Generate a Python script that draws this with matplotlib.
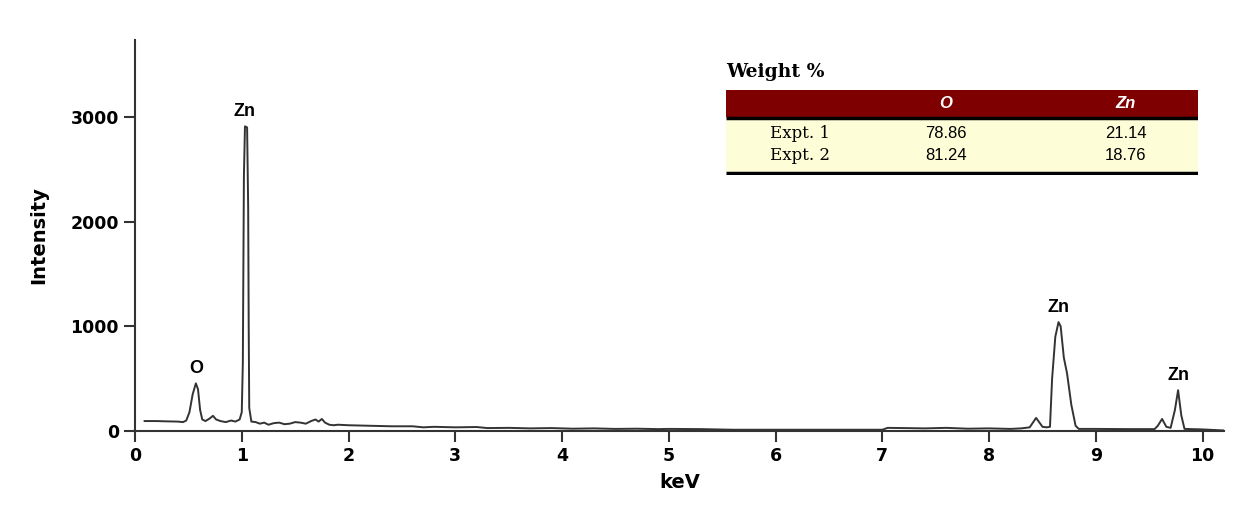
import matplotlib
matplotlib.use('Agg')
from matplotlib import pyplot as plt
from matplotlib.patches import Rectangle

# EDS spectrum (keV, counts)
kev = [0.09, 0.20, 0.30, 0.40, 0.45, 0.48, 0.51, 0.54, 0.57, 0.59, 0.61, 0.63,
       0.66, 0.70, 0.73, 0.76, 0.80, 0.85, 0.90, 0.94, 0.98, 1.00, 1.01, 1.02,
       1.03, 1.05, 1.06, 1.065, 1.07, 1.09, 1.13, 1.17, 1.21, 1.25, 1.30, 1.35,
       1.40, 1.45, 1.50, 1.55, 1.60, 1.65, 1.69, 1.72, 1.75, 1.78, 1.82, 1.86,
       1.90, 2.0, 2.2, 2.4, 2.6, 2.7, 2.8, 3.0, 3.2, 3.3, 3.5, 3.7, 3.9, 4.1,
       4.3, 4.5, 4.7, 4.9, 5.0, 5.3, 5.6, 6.0, 6.5, 7.0, 7.05, 7.2, 7.4, 7.6,
       7.8, 8.0, 8.2, 8.3, 8.38, 8.44, 8.50, 8.54, 8.57, 8.59, 8.62, 8.65, 8.67,
       8.70, 8.73, 8.77, 8.81, 8.84, 9.0, 9.3, 9.55, 9.58, 9.62, 9.66, 9.70,
       9.74, 9.77, 9.80, 9.83, 10.0, 10.2]
counts = [95, 95, 92, 90, 85, 100, 180, 350, 455, 400, 200, 110,
          95, 120, 145, 110, 95, 85, 100, 90, 110, 180, 650, 2430,
          2910, 2900, 2140, 1000, 220, 90, 85, 70, 80, 60, 75, 80,
          65, 70, 85, 80, 70, 95, 110, 90, 115, 80, 60, 55,
          60, 55, 50, 45, 45, 35, 40, 35, 38, 28, 30, 25, 28, 22,
          25, 20, 22, 18, 20, 18, 12, 12, 12, 12, 30, 28, 25, 30,
          22, 25, 20, 25, 35, 125, 40, 35, 40, 500, 900, 1040, 1000,
          700, 550, 250, 50, 20, 20, 18, 18, 50, 115, 40, 30,
          200, 390, 150, 20, 15, 5]

# background fit under the Zn K lines
bg_kev = [8.2, 10.1]
bg_counts = [4, 4]

# peak labels
peak_names = ['O', 'Zn', 'Zn', 'Zn']
peak_kev = [0.57, 1.03, 8.65, 9.77]
peak_top = [455, 2910, 1040, 390]

# weight % table
elements = ['O', 'Zn']
expts = ['Expt. 1', 'Expt. 2']
wt_O = ['78.86', '81.24']
wt_Zn = ['21.14', '18.76']

fig = plt.figure(figsize=(12.54, 5.05), dpi=100)
ax = fig.add_axes([135/1254, 1 - 431/505, (1224 - 135)/1254, (431 - 40)/505])

ax.plot(kev, counts, color='#333333', lw=1.4)
ax.plot(bg_kev, bg_counts, color='#222222', lw=1.2, ls=(0, (4, 2)))

for name, x, y in zip(peak_names, peak_kev, peak_top):
    ax.text(x, y + 60, name, ha='center', va='bottom', fontsize=13,
            fontweight='bold', family='Liberation Sans')

ax.set_xlim(0, 10.2)
ax.set_ylim(0, 3735)
ax.set_xticks(range(0, 11))
ax.set_yticks([0, 1000, 2000, 3000])
for s in ['top', 'right']:
    ax.spines[s].set_visible(False)
for s in ['left', 'bottom']:
    ax.spines[s].set_linewidth(1.5)
    ax.spines[s].set_color('#333333')
ax.tick_params(direction='out', length=8, width=1.5, color='#333333', labelsize=12.5)
for lab in ax.get_xticklabels() + ax.get_yticklabels():
    lab.set_fontweight('bold')
ax.set_xlabel('keV', fontsize=14, fontweight='bold', labelpad=6)
ax.set_ylabel('Intensity', fontsize=14, fontweight='bold', labelpad=16)

# table drawn in its own axes
tx = fig.add_axes([726/1254, 1 - 175/505, (1198 - 726)/1254, (175 - 90)/505])
tx.set_xlim(726, 1198)
tx.set_ylim(175, 90)
tx.axis('off')
tx.add_patch(Rectangle((726, 90), 472, 27, color='#7f0000', lw=0))
tx.add_patch(Rectangle((726, 118), 472, 55, color='#fdfdd8', lw=0))
tx.plot([726, 1198], [118, 118], color='black', lw=2.5, solid_capstyle='butt')
tx.plot([726, 1198], [173, 173], color='black', lw=2.5, solid_capstyle='butt')
col_x = [946, 1126]
for name, cx in zip(elements, col_x):
    tx.text(cx, 104, name, ha='center', va='center', color='white', fontsize=12,
            fontweight='bold', fontstyle='italic', family='Liberation Sans')
for i, (lab, o, zn) in enumerate(zip(expts, wt_O, wt_Zn)):
    ry = 133 + i * 23
    tx.text(800, ry, lab, ha='center', va='center', fontsize=12, family='DejaVu Serif')
    tx.text(col_x[0], ry, o, ha='center', va='center', fontsize=12, family='Liberation Sans')
    tx.text(col_x[1], ry, zn, ha='center', va='center', fontsize=12, family='Liberation Sans')
fig.text(726/1254, 1 - 72/505, 'Weight %', ha='left', va='center', fontsize=13.5,
         fontweight='bold', family='DejaVu Serif')

fig.savefig('out.png', dpi=100)
